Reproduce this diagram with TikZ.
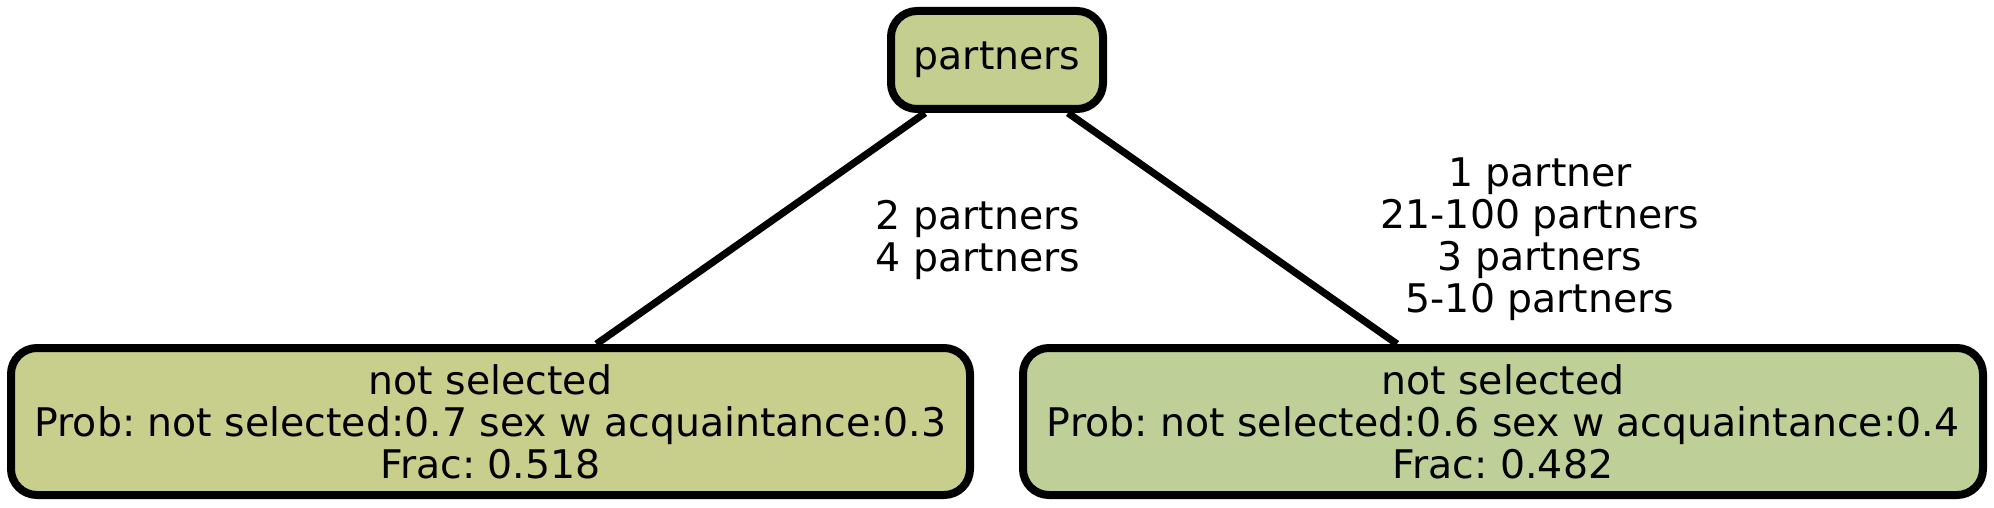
\documentclass[tikz,border=0pt]{standalone}
\usepackage{fontspec}
\setmainfont{DejaVu Sans}
\frenchspacing
\definecolor{topfill}{HTML}{C4CE8F}
\definecolor{leftfill}{HTML}{C8CE8C}
\definecolor{rightfill}{HTML}{BED098}
\begin{document}
\begin{tikzpicture}[x=0.5pt,y=-0.5pt,
  box/.style={draw=black, line width=4pt, rounded corners=13pt, inner sep=0pt, align=center,
    font=\fontsize{19.7}{21}\selectfont},
  edge/.style={draw=black, line width=3.6pt},
  elabel/.style={align=center, inner sep=0pt, font=\fontsize{19.7}{21}\selectfont}]
\useasboundingbox (0,0) rectangle (1994,508);
\node[box, fill=topfill, minimum width=106pt, minimum height=49pt] (top) at (997,60) {partners};
\node[box, fill=leftfill, minimum width=479.5pt, minimum height=73.5pt] (left) at (490.5,421.5)
  {not selected\\Prob: not selected:0.7 sex w acquaintance:0.3\\Frac: 0.518};
\node[box, fill=rightfill, minimum width=480pt, minimum height=73.5pt] (right) at (1503,421.5)
  {not selected\\Prob: not selected:0.6 sex w acquaintance:0.4\\Frac: 0.482};
\draw[edge] ([xshift=-36pt]top.south) -- ([xshift=53pt]left.north);
\draw[edge] ([xshift=35.5pt]top.south) -- ([xshift=-53pt]right.north);
\node[elabel] (l1) at (978,240) {2 partners\\4 partners};
\node[elabel] (l2) at (1540,239) {1 partner\\21-100 partners\\3 partners\\5-10 partners};
\end{tikzpicture}
\end{document}
